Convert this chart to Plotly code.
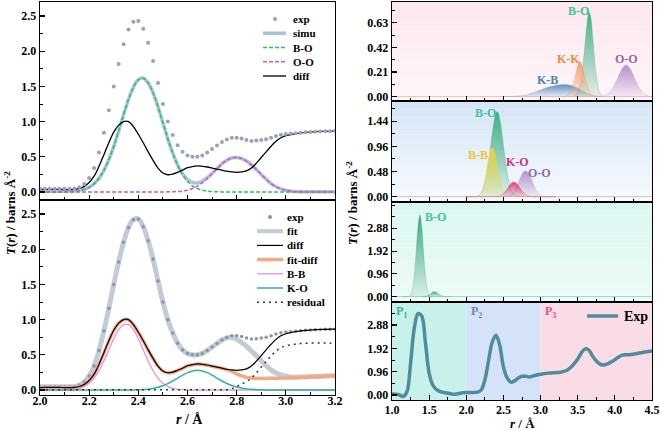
import plotly.graph_objects as go

FONT = "Liberation Serif"
W, H = 661, 431

# ---------------- data: left panels (r in Å) ----------------
r_left = [2.00, 2.02, 2.04, 2.06, 2.08, 2.10, 2.12, 2.14, 2.16, 2.18,
          2.20, 2.22, 2.24, 2.26, 2.28, 2.30, 2.32, 2.34, 2.36, 2.38,
          2.40, 2.42, 2.44, 2.46, 2.48, 2.50, 2.52, 2.54, 2.56, 2.58,
          2.60, 2.62, 2.64, 2.66, 2.68, 2.70, 2.72, 2.74, 2.76, 2.78,
          2.80, 2.82, 2.84, 2.86, 2.88, 2.90, 2.92, 2.94, 2.96, 2.98,
          3.00, 3.02, 3.04, 3.06, 3.08, 3.10, 3.12, 3.14, 3.16, 3.18, 3.20]

exp_left = [0.045, 0.046, 0.047, 0.047, 0.046, 0.045, 0.045, 0.048, 0.068, 0.115,
            0.20, 0.34, 0.56, 0.84, 1.16, 1.50, 1.82, 2.10, 2.31, 2.42,
            2.43, 2.32, 2.12, 1.86, 1.55, 1.25, 1.00, 0.81, 0.665, 0.57,
            0.52, 0.50, 0.50, 0.52, 0.56, 0.61, 0.66, 0.71, 0.745, 0.77,
            0.77, 0.76, 0.74, 0.725, 0.73, 0.74, 0.75, 0.77, 0.795, 0.815,
            0.825, 0.83, 0.835, 0.842, 0.848, 0.853, 0.857, 0.86, 0.862, 0.864, 0.865]

diff_left = [0.035, 0.036, 0.037, 0.037, 0.036, 0.035, 0.035, 0.038, 0.05, 0.08,
             0.135, 0.225, 0.365, 0.53, 0.70, 0.85, 0.95, 1.00, 1.00, 0.93,
             0.82, 0.70, 0.57, 0.45, 0.34, 0.27, 0.245, 0.255, 0.28, 0.31,
             0.345, 0.36, 0.37, 0.365, 0.355, 0.34, 0.325, 0.31, 0.295, 0.285,
             0.28, 0.285, 0.30, 0.34, 0.41, 0.49, 0.57, 0.65, 0.72, 0.77,
             0.80, 0.815, 0.83, 0.84, 0.848, 0.853, 0.857, 0.86, 0.862, 0.864, 0.865]

simu_left = [0.01, 0.01, 0.01, 0.01, 0.01, 0.011, 0.013, 0.018, 0.025, 0.038,
             0.066, 0.117, 0.195, 0.307, 0.459, 0.649, 0.868, 1.098, 1.314, 1.489,
             1.595, 1.617, 1.551, 1.408, 1.21, 0.983, 0.757, 0.553, 0.385, 0.259,
             0.177, 0.138, 0.129, 0.155, 0.203, 0.266, 0.333, 0.401, 0.45, 0.485,
             0.49, 0.475, 0.44, 0.385, 0.32, 0.25, 0.18, 0.12, 0.075, 0.045,
             0.025, 0.012, 0.006, 0.004, 0.003, 0.003, 0.003, 0.003, 0.003, 0.003, 0.003]

bo_left = [0, 0, 0, 0, 0, 0.001, 0.003, 0.008, 0.018, 0.035,
           0.066, 0.117, 0.195, 0.307, 0.459, 0.649, 0.868, 1.098, 1.314, 1.489,
           1.595, 1.617, 1.551, 1.408, 1.21, 0.983, 0.755, 0.549, 0.378, 0.246,
           0.152, 0.088, 0.049, 0.025, 0.013, 0.006, 0.003, 0.001, 0, 0,
           0, 0, 0, 0, 0, 0, 0, 0, 0, 0,
           0, 0, 0, 0, 0, 0, 0, 0, 0, 0, 0]

oo_left = [0, 0, 0, 0, 0, 0, 0, 0, 0, 0,
           0, 0, 0, 0, 0, 0, 0, 0, 0, 0,
           0, 0, 0, 0, 0, 0, 0.002, 0.004, 0.007, 0.013,
           0.025, 0.05, 0.08, 0.13, 0.19, 0.26, 0.33, 0.40, 0.45, 0.485,
           0.49, 0.475, 0.44, 0.385, 0.32, 0.25, 0.18, 0.12, 0.075, 0.045,
           0.025, 0.012, 0.005, 0.002, 0, 0, 0, 0, 0, 0, 0]

bb_left = [0, 0, 0, 0, 0, 0, 0.004, 0.010, 0.024, 0.049,
           0.095, 0.168, 0.273, 0.411, 0.570, 0.728, 0.857, 0.93, 0.93, 0.857,
           0.728, 0.570, 0.411, 0.273, 0.168, 0.095, 0.049, 0.024, 0.010, 0.004,
           0, 0, 0, 0, 0, 0, 0, 0, 0, 0,
           0, 0, 0, 0, 0, 0, 0, 0, 0, 0,
           0, 0, 0, 0, 0, 0, 0, 0, 0, 0, 0]

ko_left = [0, 0, 0, 0, 0, 0, 0, 0, 0, 0,
           0, 0, 0, 0, 0, 0, 0, 0, 0, 0,
           0.003, 0.006, 0.012, 0.022, 0.038, 0.061, 0.091, 0.128, 0.170, 0.211,
           0.247, 0.271, 0.28, 0.271, 0.247, 0.211, 0.170, 0.128, 0.093, 0.065,
           0.043, 0.027, 0.016, 0.009, 0.005, 0.002, 0, 0, 0, 0,
           0, 0, 0, 0, 0, 0, 0, 0, 0, 0, 0]

fitdiff_left = [0.033, 0.034, 0.035, 0.035, 0.034, 0.033, 0.033, 0.036, 0.048, 0.078,
                0.133, 0.223, 0.363, 0.528, 0.698, 0.848, 0.948, 0.998, 0.998, 0.928,
                0.818, 0.698, 0.568, 0.448, 0.338, 0.268, 0.243, 0.253, 0.278, 0.308,
                0.343, 0.358, 0.368, 0.363, 0.353, 0.338, 0.323, 0.308, 0.29, 0.265,
                0.23, 0.20, 0.18, 0.17, 0.166, 0.165, 0.165, 0.166, 0.167, 0.169,
                0.171, 0.174, 0.177, 0.18, 0.183, 0.186, 0.189, 0.192, 0.195, 0.198, 0.20]

fit_left = [0.045, 0.046, 0.047, 0.047, 0.046, 0.045, 0.045, 0.048, 0.068, 0.115,
            0.20, 0.34, 0.56, 0.84, 1.16, 1.50, 1.82, 2.10, 2.31, 2.42,
            2.43, 2.32, 2.12, 1.86, 1.55, 1.25, 1.00, 0.81, 0.665, 0.57,
            0.52, 0.50, 0.50, 0.52, 0.56, 0.61, 0.66, 0.71, 0.74, 0.75,
            0.72, 0.675, 0.62, 0.555, 0.486, 0.415, 0.345, 0.286, 0.242, 0.214,
            0.196, 0.186, 0.183, 0.184, 0.186, 0.189, 0.192, 0.195, 0.198, 0.201, 0.203]

resid_left = [0.005, 0.005, 0.005, 0.005, 0.005, 0.005, 0.005, 0.005, 0.005, 0.005,
              0.005, 0.005, 0.005, 0.005, 0.005, 0.005, 0.005, 0.005, 0.005, 0.005,
              0.005, 0.005, 0.005, 0.005, 0.005, 0.005, 0.005, 0.005, 0.005, 0.005,
              0.005, 0.005, 0.005, 0.005, 0.005, 0.005, 0.005, 0.005, 0.005, 0.02,
              0.05, 0.085, 0.12, 0.17, 0.244, 0.325, 0.405, 0.484, 0.553, 0.601,
              0.629, 0.641, 0.653, 0.66, 0.665, 0.667, 0.668, 0.668, 0.667, 0.666, 0.665]

# ---------------- data: right panels ----------------
kb_r = [2.5, 2.6, 2.7, 2.8, 2.9, 3.0, 3.1, 3.2, 3.3, 3.4, 3.5, 3.6, 3.7, 3.8]
kb_t = [0, 0.002, 0.005, 0.012, 0.033, 0.058, 0.08, 0.095, 0.103, 0.098, 0.072, 0.035, 0.01, 0]
kk_r = [3.30, 3.35, 3.40, 3.45, 3.475, 3.50, 3.525, 3.55, 3.575, 3.60, 3.65, 3.70, 3.75]
kk_t = [0, 0.005, 0.04, 0.13, 0.20, 0.265, 0.30, 0.28, 0.225, 0.16, 0.06, 0.015, 0]
bo1_r = [3.45, 3.50, 3.55, 3.575, 3.60, 3.625, 3.65, 3.675, 3.70, 3.725, 3.75, 3.80, 3.85]
bo1_t = [0, 0.04, 0.17, 0.30, 0.46, 0.62, 0.72, 0.68, 0.52, 0.33, 0.18, 0.03, 0]
oo1_r = [3.80, 3.85, 3.90, 3.95, 4.00, 4.05, 4.10, 4.15, 4.20, 4.25, 4.30, 4.35, 4.40, 4.45, 4.50]
oo1_t = [0, 0.006, 0.02, 0.05, 0.105, 0.175, 0.24, 0.27, 0.245, 0.18, 0.11, 0.055, 0.022, 0.006, 0]

bo3_r = [1.15, 1.20, 1.225, 1.25, 1.275, 1.30, 1.325, 1.35, 1.375, 1.40, 1.425, 1.45, 1.475, 1.50, 1.525, 1.55]
bo3_t = [0, 0.005, 0.013, 0.072, 0.29, 0.86, 1.86, 2.95, 3.44, 2.95, 1.86, 0.86, 0.29, 0.072, 0.013, 0]
bo3b_r = [1.40, 1.45, 1.50, 1.525, 1.55, 1.575, 1.60, 1.625, 1.65, 1.70, 1.75, 1.80]
bo3b_t = [0, 0.012, 0.08, 0.14, 0.195, 0.21, 0.18, 0.12, 0.065, 0.01, 0.002, 0]

r_full = [1.00, 1.05, 1.10, 1.15, 1.20, 1.25, 1.30, 1.35, 1.40, 1.45,
          1.50, 1.55, 1.60, 1.65, 1.70, 1.75, 1.80, 1.85, 1.90, 1.95,
          2.00, 2.05, 2.10, 2.15, 2.20, 2.25, 2.30, 2.35, 2.40, 2.45,
          2.50, 2.55, 2.60, 2.65, 2.70, 2.75, 2.80, 2.85, 2.90, 2.95,
          3.00, 3.05, 3.10, 3.15, 3.20, 3.25, 3.30, 3.35, 3.40, 3.45,
          3.50, 3.55, 3.60, 3.65, 3.70, 3.75, 3.80, 3.85, 3.90, 3.95,
          4.00, 4.05, 4.10, 4.15, 4.20, 4.25, 4.30, 4.35, 4.40, 4.45, 4.50]
exp_full = [0.04, 0.03, 0.00, -0.06, 0.12, 1.30, 2.75, 3.35, 3.25, 2.15,
            0.90, 0.40, 0.22, 0.14, 0.10, 0.07, 0.04, 0.03, 0.06, 0.09,
            0.10, 0.10, 0.10, 0.12, 0.20, 0.62, 1.42, 2.18, 2.46, 2.05,
            1.15, 0.70, 0.53, 0.58, 0.70, 0.77, 0.77, 0.74, 0.78, 0.82,
            0.85, 0.88, 0.90, 0.91, 0.92, 0.93, 0.96, 1.01, 1.12, 1.28,
            1.48, 1.74, 1.90, 1.85, 1.60, 1.40, 1.27, 1.23, 1.28, 1.36,
            1.45, 1.56, 1.64, 1.66, 1.66, 1.68, 1.71, 1.74, 1.77, 1.79, 1.81]

region_edges = [1.0, 2.0, 3.0, 4.5]
region_names = ["P<sub>1</sub>", "P<sub>2</sub>", "P<sub>3</sub>"]

left_xticks = [2.0, 2.2, 2.4, 2.6, 2.8, 3.0, 3.2]
left_yticks = [0.0, 0.5, 1.0, 1.5, 2.0, 2.5]
right_xticks = [1.0, 1.5, 2.0, 2.5, 3.0, 3.5, 4.0, 4.5]
right_yticks = [[0, 0.21, 0.42, 0.63], [0, 0.48, 0.96, 1.44], [0, 0.96, 1.92, 2.88], [0, 0.96, 1.92, 2.88]]

# ---------------- styles ----------------
C_EXP = '#97a3b6'
C_SIMU = '#a9c2e4'
C_BO = '#2fc25e'
C_OO = '#e052c6'
C_FIT = '#c3cbd6'
C_FD = '#f5a885'
C_BB = '#e98ee9'
C_KO = '#2db39e'
C_EXPR = '#4f8d9c'


def px(x):
    return x / W


def py(y):
    return 1 - y / H


def rgba(h, a):
    h = h.lstrip('#')
    return 'rgba(%d,%d,%d,%.2f)' % (int(h[0:2], 16), int(h[2:4], 16), int(h[4:6], 16), a)


fig = go.Figure()


def line(x, y, color, width, ax, dash=None, shape='spline'):
    fig.add_trace(go.Scatter(x=x, y=y, mode='lines', xaxis=ax[0], yaxis=ax[1],
                             line=dict(color=color, width=width, dash=dash, shape=shape),
                             hoverinfo='skip'))


def dots(x, y, color, size, ax):
    fig.add_trace(go.Scatter(x=x, y=y, mode='markers', xaxis=ax[0], yaxis=ax[1],
                             marker=dict(color=color, size=size, line=dict(width=0)),
                             hoverinfo='skip'))


def area(x, y, color, ax):
    fig.add_trace(go.Scatter(x=x, y=y, mode='lines', xaxis=ax[0], yaxis=ax[1],
                             line=dict(color=rgba(color, 0.5), width=0.6, shape='spline'),
                             fill='tozeroy',
                             fillgradient=dict(type='vertical',
                                               colorscale=[[0, rgba(color, 0.12)], [1, rgba(color, 0.95)]]),
                             hoverinfo='skip'))


# left top
A1 = ('x', 'y')
line(r_left, simu_left, C_SIMU, 3.5, A1)
line(r_left, bo_left, C_BO, 1.5, A1, dash='4px,2px')
line(r_left, oo_left, C_OO, 1.5, A1, dash='4px,2px')
line(r_left, diff_left, 'black', 1.3, A1)
dots(r_left, exp_left, C_EXP, 4, A1)

# left bottom
A2 = ('x2', 'y2')
line(r_left, fit_left, C_FIT, 5, A2)
dots(r_left, exp_left, '#8797ad', 3.5, A2)
line(r_left, fitdiff_left, C_FD, 3.5, A2)
line(r_left, diff_left, 'black', 1.2, A2)
line(r_left, bb_left, C_BB, 1.3, A2)
line(r_left, ko_left, C_KO, 1.5, A2)
line(r_left, resid_left, '#333333', 1.5, A2, dash='2px,4px')

# right panel 1
A3 = ('x3', 'y3')
area(kb_r, kb_t, '#5b8cc4', A3)
area(bo1_r, bo1_t, '#3aae80', A3)
area(kk_r, kk_t, '#f59a6a', A3)
area(oo1_r, oo1_t, '#b48cc8', A3)

# right panel 2
A4 = ('x4', 'y4')
area(r_left, bo_left, '#3aae80', A4)
area(r_left, bb_left, '#f2d23c', A4)
area(r_left, oo_left, '#b48cc8', A4)
area(r_left, ko_left, '#dc3a6e', A4)

# right panel 3
A5 = ('x5', 'y5')
area(bo3_r, bo3_t, '#3aa57a', A5)
area(bo3b_r, bo3b_t, '#3aa57a', A5)

# right panel 4
A6 = ('x6', 'y6')
line(r_full, exp_full, C_EXPR, 3.5, A6)

# ---------------- axes ----------------
tickfont = dict(family=FONT, size=12, color='black', weight='bold')


def xax(domain, anchor, rng, tickvals, minor_dtick, show_labels, standoff=0):
    return dict(domain=domain, anchor=anchor, range=rng, tickvals=tickvals, tickformat='.1f',
                showticklabels=show_labels, ticks='inside', ticklen=5, tickwidth=1.2, tickcolor='black',
                showline=True, linecolor='black', linewidth=1.4, mirror=True, showgrid=False,
                zeroline=False, tickfont=tickfont, automargin=False, ticklabelstandoff=standoff,
                minor=dict(ticks='inside', ticklen=3, tickwidth=1, tickcolor='black',
                           dtick=minor_dtick, tick0=0, showgrid=False))


def yax(domain, anchor, rng, tickvals, fmt, minor_dtick, zl=None):
    d = dict(domain=domain, anchor=anchor, range=rng, tickvals=tickvals, tickformat=fmt,
             ticks='inside', ticklen=5, tickwidth=1.2, tickcolor='black',
             showline=True, linecolor='black', linewidth=1.4, mirror=True, showgrid=False,
             zeroline=False, tickfont=tickfont, automargin=False,
             minor=dict(ticks='inside', ticklen=3, tickwidth=1, tickcolor='black',
                        dtick=minor_dtick, tick0=0, showgrid=False))
    if zl:
        d.update(zeroline=True, zerolinecolor=zl, zerolinewidth=1)
    return d


LX = [px(40), px(335)]
RX = [px(392), px(652)]

layout = dict(
    width=W, height=H, margin=dict(l=0, r=0, t=0, b=0, autoexpand=False),
    paper_bgcolor='white', plot_bgcolor='white', showlegend=False,
    font=dict(family=FONT, color='black'),
    xaxis=xax(LX, 'y', [2.0, 3.2], left_xticks, 0.1, False),
    yaxis=yax([py(200), py(2)], 'x', [-0.114, 2.70], left_yticks, '.1f', 0.25),
    xaxis2=xax(LX, 'y2', [2.0, 3.2], left_xticks, 0.1, True, standoff=-6),
    yaxis2=yax([py(395), py(200)], 'x2', [-0.071, 2.70], left_yticks, '.1f', 0.25),
    xaxis3=xax(RX, 'y3', [1.0, 4.5], right_xticks, 0.25, False),
    yaxis3=yax([py(101), py(2)], 'x3', [-0.0366, 0.806], right_yticks[0], '.2f', 0.105, '#f4c4b4'),
    xaxis4=xax(RX, 'y4', [1.0, 4.5], right_xticks, 0.25, False),
    yaxis4=yax([py(202), py(101)], 'x4', [-0.101, 1.823], right_yticks[1], '.2f', 0.24, '#f2b8c8'),
    xaxis5=xax(RX, 'y5', [1.0, 4.5], right_xticks, 0.25, False),
    yaxis5=yax([py(302), py(202)], 'x5', [-0.223, 3.987], right_yticks[2], '.2f', 0.48, '#9edccf'),
    xaxis6=xax(RX, 'y6', [1.0, 4.5], right_xticks, 0.25, True, standoff=-2),
    yaxis6=yax([py(400), py(302)], 'x6', [-0.206, 3.827], right_yticks[3], '.2f', 0.48),
)
fig.update_layout(**layout)

# ---------------- backgrounds ----------------
shapes = []


def mix(c0, c1, t):
    return 'rgb(%d,%d,%d)' % tuple(round(a + (b - a) * t) for a, b in zip(c0, c1))


bg_specs = [('x3', 'y3', (252, 231, 238), (255, 246, 249)),
            ('x4', 'y4', (212, 229, 246), (246, 250, 253)),
            ('x5', 'y5', (218, 246, 240), (238, 251, 248))]
N = 24
for xa, ya, top, bot in bg_specs:
    for i in range(N):
        t = (i + 0.5) / N
        shapes.append(dict(type='rect', layer='below', xref=xa + ' domain', yref=ya + ' domain',
                           x0=0, x1=1, y0=i / N, y1=(i + 1) / N + 0.002,
                           fillcolor=mix(bot, top, t), line=dict(width=0)))
region_colors = ['#c9f1ec', '#d4e3f8', '#fadce7']
for i in range(3):
    shapes.append(dict(type='rect', layer='below', xref='x6', yref='y6 domain',
                       x0=region_edges[i], x1=region_edges[i + 1], y0=0, y1=1,
                       fillcolor=region_colors[i], line=dict(width=0)))

# ---------------- custom legends ----------------
annotations = []


def leg_text(x, y, text, size=11):
    annotations.append(dict(xref='paper', yref='paper', x=px(x), y=py(y), text='<b>%s</b>' % text,
                            showarrow=False, xanchor='left', yanchor='middle',
                            font=dict(family=FONT, size=size, color='black')))


def leg_line(x0, x1, y, color, width, dash=None):
    shapes.append(dict(type='line', xref='paper', yref='paper', x0=px(x0), x1=px(x1), y0=py(y), y1=py(y),
                       line=dict(color=color, width=width, dash=dash)))


def leg_dot(x, y, color, r=2):
    shapes.append(dict(type='circle', xref='paper', yref='paper', x0=px(x - r), x1=px(x + r),
                       y0=py(y + r), y1=py(y - r), fillcolor=color, line=dict(width=0)))


top_leg = [('exp', 'dot', C_EXP, 0, None), ('simu', 'line', C_SIMU, 3.5, None),
           ('B-O', 'line', C_BO, 1.5, '4px,2px'), ('O-O', 'line', C_OO, 1.5, '4px,2px'),
           ('diff', 'line', 'black', 1.3, None)]
for i, (name, kind, col, w, dsh) in enumerate(top_leg):
    y = 19 + i * 14.25
    if kind == 'dot':
        leg_dot(275, y, col)
    else:
        leg_line(263, 286, y, col, w, dsh)
    leg_text(291, y, name)

bot_leg = [('exp', 'dot', '#8797ad', 0, None), ('fit', 'line', C_FIT, 4, None),
           ('diff', 'line', 'black', 1.2, None), ('fit-diff', 'line', C_FD, 3.5, None),
           ('B-B', 'line', C_BB, 1.3, None), ('K-O', 'line', C_KO, 1.5, None),
           ('residual', 'line', '#333333', 1.5, '2px,4px')]
for i, (name, kind, col, w, dsh) in enumerate(bot_leg):
    y = 217 + i * 14.2
    if kind == 'dot':
        leg_dot(270, y, col)
    else:
        leg_line(257, 283, y, col, w, dsh)
    leg_text(285, y, name)

leg_line(587, 618, 316, C_EXPR, 3.5)
leg_text(622, 316, 'Exp', size=14)

# ---------------- labels ----------------


def lab(xa, ya, x, y, text, color, size=12, anchor='center'):
    annotations.append(dict(xref=xa, yref=ya, x=x, y=y, text='<b>%s</b>' % text, showarrow=False,
                            xanchor=anchor, yanchor='middle', font=dict(family=FONT, size=size, color=color)))


lab('x3', 'y3', 3.093, 0.142, 'K-B', '#4c7fb3')
lab('x3', 'y3', 3.376, 0.32, 'K-K', '#f08a40')
lab('x3', 'y3', 3.504, 0.733, 'B-O', '#3cc59a')
lab('x3', 'y3', 4.163, 0.32, 'O-O', '#8e6aa8')
lab('x4', 'y4', 2.259, 1.60, 'B-O', '#3cc59a')
lab('x4', 'y4', 2.164, 0.785, 'B-B', '#f0c43c')
lab('x4', 'y4', 2.696, 0.66, 'K-O', '#d2307a')
lab('x4', 'y4', 2.99, 0.46, 'O-O', '#8e6aa8')
lab('x5', 'y5', 1.586, 3.36, 'B-O', '#3cc59a')
p_colors = ['#2fb79a', '#6a88b0', '#e0508a']
p_x = [1.03, 2.04, 3.03]
for i in range(3):
    lab('x6', 'y6', p_x[i], 3.40, region_names[i], p_colors[i], size=12, anchor='left')

ytitle = '<b><i>T</i>(<i>r</i>) / barns Å<sup>-2</sup></b>'
annotations.append(dict(xref='paper', yref='paper', x=px(10), y=py(213), text=ytitle, textangle=-90,
                        showarrow=False, xanchor='center', yanchor='middle',
                        font=dict(family=FONT, size=13, color='black')))
annotations.append(dict(xref='paper', yref='paper', x=px(352), y=py(203), text=ytitle, textangle=-90,
                        showarrow=False, xanchor='center', yanchor='middle',
                        font=dict(family=FONT, size=13, color='black')))
xtitle = '<b><i>r</i> / Å</b>'
annotations.append(dict(xref='paper', yref='paper', x=px(190), y=py(419), text=xtitle, showarrow=False,
                        xanchor='center', yanchor='middle', font=dict(family=FONT, size=14, color='black')))
annotations.append(dict(xref='paper', yref='paper', x=px(522), y=py(423), text=xtitle, showarrow=False,
                        xanchor='center', yanchor='middle', font=dict(family=FONT, size=13, color='black')))

fig.update_layout(shapes=shapes, annotations=annotations)
fig.write_html("out.html", config={'displayModeBar': False, 'staticPlot': True},
               post_script="document.body.style.margin='0px';document.body.style.padding='0px';")
